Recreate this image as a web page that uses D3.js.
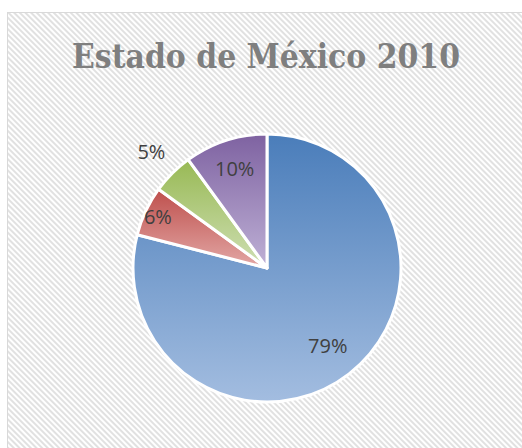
<!DOCTYPE html>
<html>
<head>
<meta charset="utf-8">
<script src="https://cdn.jsdelivr.net/npm/d3@7"></script>
<style>
  body { margin: 0; background: #fff; }
  svg { display: block; }
</style>
</head>
<body>
<div id="chart"></div>
<script>
// data
var categories = ["A", "B", "C", "D"];
var values = [79, 6, 5, 10];
var topColors = ["#4a7dba", "#be4f4c", "#98b954", "#7e62a1"];
var bottomColors = ["#a3bde0", "#e3a8a6", "#cfdfb4", "#bfb1d6"];
var title = "Estado de México 2010";

var width = 522, height = 448;
var svg = d3.select("#chart").append("svg")
  .attr("width", width)
  .attr("height", height);

var defs = svg.append("defs");

// diagonal hatch background
var pat = defs.append("pattern")
  .attr("id", "hatch")
  .attr("patternUnits", "userSpaceOnUse")
  .attr("width", 4)
  .attr("height", 4)
  .attr("patternTransform", "rotate(-45)");
pat.append("rect").attr("width", 4).attr("height", 4).attr("fill", "#fff");
pat.append("rect").attr("width", 2).attr("height", 4).attr("fill", "#e1e1e1");

svg.append("rect")
  .attr("x", 7.5)
  .attr("y", 12.5)
  .attr("width", width)
  .attr("height", height)
  .attr("fill", "url(#hatch)")
  .attr("stroke", "#d9d9d9")
  .attr("stroke-width", 1);

// one gradient per slice
categories.forEach(function(c, i) {
  var g = defs.append("linearGradient")
    .attr("id", "grad" + i)
    .attr("x1", 0).attr("y1", 0)
    .attr("x2", 0).attr("y2", 1);
  g.append("stop").attr("offset", "0%").attr("stop-color", topColors[i]);
  g.append("stop").attr("offset", "100%").attr("stop-color", bottomColors[i]);
});

svg.append("text")
  .attr("x", 266)
  .attr("y", 68)
  .attr("text-anchor", "middle")
  .attr("textLength", 388)
  .attr("lengthAdjust", "spacingAndGlyphs")
  .style("font-family", "'DejaVu Serif Condensed', 'DejaVu Serif', serif")
  .style("font-weight", "bold")
  .style("font-size", "34px")
  .style("fill", "#7f7f7f")
  .text(title);

var cx = 267, cy = 268, radius = 134;
var g = svg.append("g").attr("transform", "translate(" + cx + "," + cy + ")");

var data = categories.map(function(c, i) { return {key: c, value: values[i]}; });

var pie = d3.pie().sort(null).value(function(d) { return d.value; });
var arc = d3.arc().innerRadius(0).outerRadius(radius);

var arcs = g.selectAll(".arc")
  .data(pie(data))
  .enter()
  .append("g")
  .attr("class", "arc");

arcs.append("path")
  .attr("d", arc)
  .attr("fill", function(d, i) { return "url(#grad" + i + ")"; })
  .attr("stroke", "#fff")
  .attr("stroke-width", 3)
  .attr("stroke-linejoin", "round");

// label distance as a fraction of the radius (best fit like Excel)
var labelFrac = [0.74, 0.9, 1.22, 0.78];
var total = d3.sum(values);

arcs.append("text")
  .attr("transform", function(d, i) {
    var r = radius * labelFrac[i];
    var la = d3.arc().innerRadius(r).outerRadius(r);
    return "translate(" + la.centroid(d) + ")";
  })
  .attr("text-anchor", "middle")
  .attr("dy", "0.35em")
  .style("font-family", "'Open Sans', sans-serif")
  .style("font-size", "20px")
  .style("fill", "#404040")
  .text(function(d) { return Math.round(d.value / total * 100) + "%"; });
</script>
</body>
</html>
